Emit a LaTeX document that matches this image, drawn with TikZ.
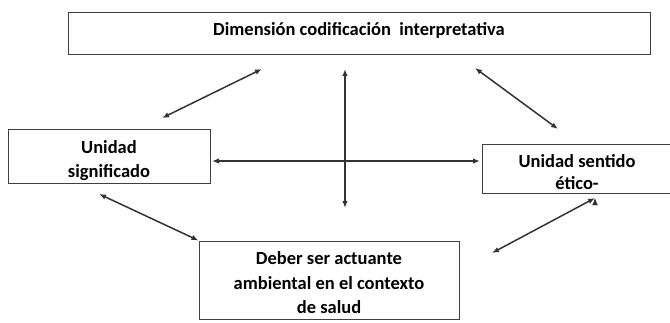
\documentclass[tikz,border=0pt]{standalone}
\usepackage{fontspec}
\setmainfont{Carlito}
\usetikzlibrary{positioning, arrows.meta}

\begin{document}
\begin{tikzpicture}[x=1pt,y=1pt,node distance=100pt,on grid,>={Latex[length=7pt,width=5.5pt]},
    box/.style={draw=black!75, line width=1pt, align=center, inner sep=0pt,
        font=\bfseries\fontsize{18.5}{24.5}\selectfont}]
    \useasboundingbox (0,0) rectangle (670,322);
    \node[box,minimum width=582pt,minimum height=42pt] (dim) at (359,288)
        {Dimensión codificación\ \ interpretativa\rule[-10.5pt]{0pt}{10.5pt}};
    \node[box,minimum width=202pt,minimum height=53pt] (usig) [below left=122.5pt and 250pt of dim]
        {\rule{0pt}{21pt}Unidad\\significado};
    \node[box,minimum width=190pt,minimum height=49pt] (uet) [below right=134.5pt and 218pt of dim]
        {\rule{0pt}{20pt}Unidad sentido\\[-2pt]ético-};
    \node[box,minimum width=260pt,minimum height=78pt] (deber) [below left=246pt and 30pt of dim]
        {\rule{0pt}{19pt}Deber ser actuante\\ambiental en el contexto\\de salud};
    % free ends of the arrows
    \coordinate (d1) at (262,253); \coordinate (u1) at (162,204);
    \coordinate (d2) at (345,253); \coordinate (b2) at (345,114);
    \coordinate (d3) at (475,254); \coordinate (e3) at (558,193);
    \coordinate (u4) at (212,161); \coordinate (e4) at (480,161);
    \coordinate (u5) at (99,128);
    \coordinate (e6) at (595,124); \coordinate (b6) at (492,69);
    \path[<->,draw=black!80,line width=1.5pt]
        (d1) edge (u1)
        (d2) edge (b2)
        (d3) edge (e3)
        (u4) edge (e4)
        (u5) edge (deber.north west)
        (e6) edge (b6);
\end{tikzpicture}
\end{document}
